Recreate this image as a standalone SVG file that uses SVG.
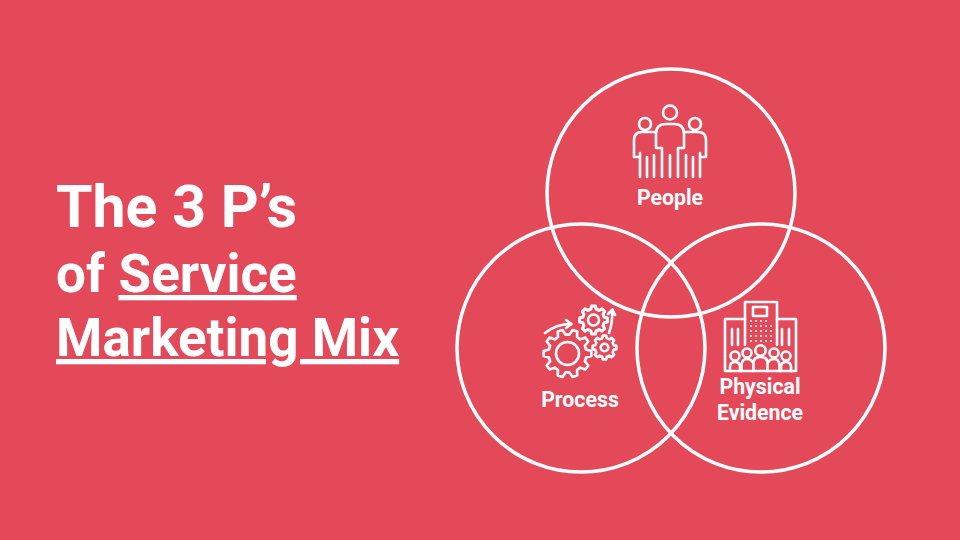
<svg xmlns="http://www.w3.org/2000/svg" width="960" height="540" viewBox="0 0 960 540">
<style>
.title{font:700 53px Roboto,"Liberation Sans",sans-serif;fill:#fff}
.big{font-size:59px}
.label{font:700 21.300px Roboto,"Liberation Sans",sans-serif;fill:#fff;text-anchor:middle}
.ring{fill:none;stroke:#fff;stroke-width:3.5}
.ic{fill:none;stroke:#fff;stroke-width:2.6;stroke-linecap:round;stroke-linejoin:round}
.ic *{vector-effect:non-scaling-stroke}
.dot{fill:#fff}
</style>
<defs>
<path id="g10" d="M23.87 2.51L18.58 3.95L17.36 7.73L20.78 12L17.84 16.06L12.71 14.12L9.5 16.45L9.76 21.92L4.99 23.47L1.99 18.89L-1.99 18.89L-4.99 23.47L-9.76 21.92L-9.5 16.45L-12.71 14.12L-17.84 16.06L-20.78 12L-17.36 7.73L-18.58 3.95L-23.87 2.51L-23.87 -2.51L-18.58 -3.95L-17.36 -7.73L-20.78 -12L-17.84 -16.06L-12.71 -14.12L-9.5 -16.45L-9.76 -21.92L-4.99 -23.47L-1.99 -18.89L1.99 -18.89L4.99 -23.47L9.76 -21.92L9.5 -16.45L12.71 -14.12L17.84 -16.06L20.78 -12L17.36 -7.73L18.58 -3.95L23.87 -2.51Z"/>
<path id="g8" d="M11.88 1.67L9.22 2.3L8.14 4.89L9.58 7.22L7.22 9.58L4.89 8.14L2.3 9.22L1.67 11.88L-1.67 11.88L-2.3 9.22L-4.89 8.14L-7.22 9.58L-9.58 7.22L-8.14 4.89L-9.22 2.3L-11.88 1.67L-11.88 -1.67L-9.22 -2.3L-8.14 -4.89L-9.58 -7.22L-7.22 -9.58L-4.89 -8.14L-2.3 -9.22L-1.67 -11.88L1.67 -11.88L2.3 -9.22L4.89 -8.14L7.22 -9.58L9.58 -7.22L8.14 -4.89L9.22 -2.3L11.88 -1.67Z"/>
</defs>
<rect id="background" width="960" height="540" fill="#e4495a"/>
<g id="title">
<text class="title big" x="56" y="227">The 3 P’s</text>
<text class="title" x="56" y="292">of <tspan x="118.500" text-decoration="underline">Service</tspan></text>
<text class="title" x="56" y="356" text-decoration="underline">Marketing Mix</text>
</g>
<g id="circle-people"><circle class="ring" cx="671" cy="193" r="124"/></g>
<g id="circle-process"><circle class="ring" cx="581" cy="348" r="124"/></g>
<g id="circle-evidence"><circle class="ring" cx="761" cy="348" r="124"/></g>
<g id="people">
<g class="ic">
<circle cx="670" cy="112.500" r="7"/>
<circle cx="645" cy="124" r="6"/>
<circle cx="695" cy="124" r="6"/>
<path d="M662 177V148M662 148H656V134Q656 124 666 124H674Q684 124 684 134V148H678V177M670 155V177"/>
<path d="M655 132H642Q634 132 634 140V157H640M640 153V177M647 157V177M654 155V177"/>
<path d="M685 132H698Q706 132 706 140V157H700M700 153V177M693 157V177M686 155V177"/>
</g>
<text class="label" x="670" y="205">People</text>
</g>
<g id="process">
<g class="ic">
<use href="#g10" transform="translate(567.500 353.500)"/>
<circle cx="567.500" cy="353.500" r="11.500"/>
<use href="#g8" transform="translate(593.500 320) scale(1.17)"/>
<circle cx="593.500" cy="320" r="5.500"/>
<use href="#g8" transform="translate(604.500 347.500)"/>
<circle cx="604.500" cy="347.500" r="3.800"/>
<path d="M545 333Q556 324 571 324M566 320L571.500 324L566 328"/>
<path d="M609 333Q613 322 612 310M608 314L612.500 309.500L615 315"/>
</g>
<text class="label" x="580" y="407">Process</text>
</g>
<g id="physical-evidence">
<g class="ic">
<path d="M745 345V302H777V345"/>
<rect x="753" y="307" width="14" height="9"/>
<path d="M745 319H725V371H796V319H777"/>
<path d="M732 329V345M738 329V345M782 329V345M789 329V345"/>
<circle cx="735" cy="356" r="4.500"/>
<circle cx="747" cy="353" r="4.500"/>
<circle cx="760.500" cy="350.500" r="5.200"/>
<circle cx="774" cy="353" r="4.500"/>
<circle cx="786" cy="356" r="4.500"/>
<path d="M730 371V367Q730 362 735 362Q740 362 740 367V371"/>
<path d="M741.500 371V365Q742 359 747 359Q751 359 752.500 362"/>
<path d="M753.500 371V363Q753.500 357 760.500 357Q767.500 357 767.500 363V371"/>
<path d="M768.500 362Q770 359 774 359Q779 359 779.500 365V371"/>
<path d="M781 371V367Q781 362 786 362Q791 362 791 367V371"/>
</g>
<g class="dot">
<circle cx="751" cy="321" r="1"/><circle cx="756" cy="321" r="1"/><circle cx="761" cy="321" r="1"/><circle cx="766" cy="321" r="1"/>
<circle cx="751" cy="326" r="1"/><circle cx="756" cy="326" r="1"/><circle cx="761" cy="326" r="1"/><circle cx="766" cy="326" r="1"/><circle cx="771" cy="326" r="1"/>
<circle cx="751" cy="331" r="1"/><circle cx="756" cy="331" r="1"/><circle cx="761" cy="331" r="1"/><circle cx="766" cy="331" r="1"/><circle cx="771" cy="331" r="1"/>
<circle cx="751" cy="336" r="1"/><circle cx="756" cy="336" r="1"/><circle cx="761" cy="336" r="1"/><circle cx="766" cy="336" r="1"/><circle cx="771" cy="336" r="1"/>
<circle cx="751" cy="341" r="1"/><circle cx="756" cy="341" r="1"/><circle cx="761" cy="341" r="1"/><circle cx="766" cy="341" r="1"/><circle cx="771" cy="341" r="1"/>
</g>
<text class="label" x="760" y="394">Physical</text>
<text class="label" x="760" y="420">Evidence</text>
</g>
</svg>
